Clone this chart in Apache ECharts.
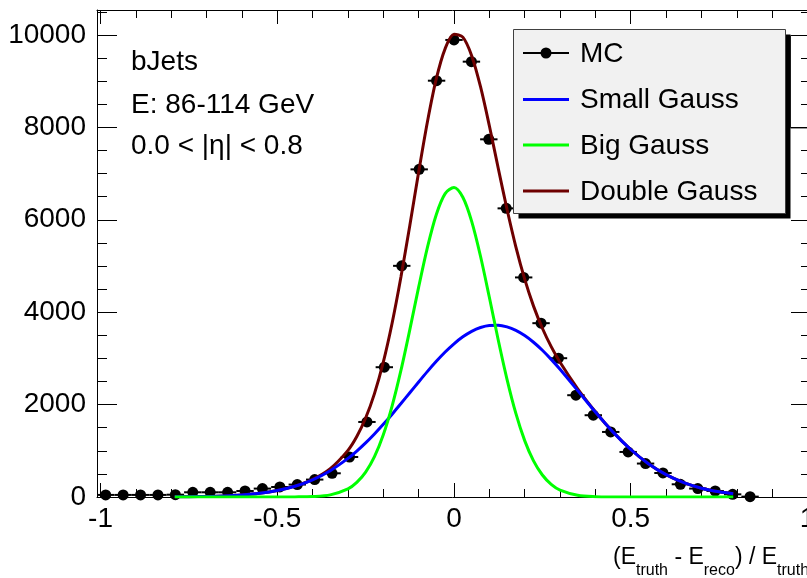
<!DOCTYPE html>
<html>
<head>
<meta charset="utf-8">
<script src="https://cdn.jsdelivr.net/npm/echarts@6/dist/echarts.min.js"></script>
<style>
  html, body { margin: 0; padding: 0; background: #ffffff; }
  #chart { width: 807px; height: 578px; }
</style>
</head>
<body>
<div id="chart"></div>
<script>
// ---- data -------------------------------------------------------------
const seriesNames = ['MC', 'Small Gauss', 'Big Gauss', 'Double Gauss'];

// MC histogram: bin centres and entries
const binCenters = [-0.9854, -0.9361, -0.8868, -0.8376, -0.7883, -0.7390, -0.6898, -0.6405,
  -0.5912, -0.5420, -0.4927, -0.4434, -0.3941, -0.3449, -0.2956, -0.2463, -0.1971, -0.1478,
  -0.0985, -0.0493, 0, 0.0493, 0.0985, 0.1478, 0.1971, 0.2463, 0.2956, 0.3449, 0.3941,
  0.4434, 0.4927, 0.5420, 0.5912, 0.6405, 0.6898, 0.7390, 0.7883, 0.8376];
const binHalfWidth = 0.0246;
const mcCounts = [45, 45, 45, 45, 50, 102, 102, 102, 130, 182, 217, 269, 377, 513, 866,
  1624, 2809, 5003, 7091, 9010, 9892, 9422, 7741, 6247, 4752, 3762, 3004, 2203, 1770,
  1408, 975, 724, 520, 275, 182, 130, 58, 8];

// fitted curves sampled along the fit range
const fitX = [-0.79, -0.75, -0.7, -0.65, -0.6, -0.55, -0.5, -0.45, -0.4, -0.35,
  -0.3, -0.275, -0.25, -0.225, -0.2, -0.175, -0.15, -0.125, -0.1, -0.075, -0.05, -0.025,
  0, 0.025, 0.05, 0.075, 0.1, 0.125, 0.15, 0.175, 0.2, 0.225, 0.25, 0.275, 0.3,
  0.35, 0.4, 0.45, 0.5, 0.55, 0.6, 0.65, 0.7, 0.75, 0.79];
const smallGauss = [3, 6, 12, 23, 44, 80, 140, 233, 372, 569,
  835, 994, 1171, 1364, 1572, 1793, 2022, 2256, 2490, 2719, 2937, 3138,
  3316, 3467, 3586, 3669, 3713, 3717, 3681, 3606, 3494, 3349, 3176, 2979, 2764,
  2303, 1838, 1404, 1028, 720, 483, 310, 191, 112, 71];
const bigGauss = [0, 0, 0, 0, 0, 0, 0, 2, 10, 46,
  175, 315, 538, 874, 1347, 1973, 2744, 3622, 4542, 5408, 6116, 6567,
  6698, 6486, 5966, 5211, 4322, 3404, 2547, 1809, 1220, 782, 476, 275, 151,
  39, 8, 1, 0, 0, 0, 0, 0, 0, 0];
const doubleGauss = [3, 6, 12, 23, 44, 80, 140, 235, 382, 615,
  1010, 1309, 1709, 2238, 2919, 3766, 4766, 5878, 7032, 8127, 9053, 9705,
  10014, 9953, 9552, 8880, 8035, 7121, 6228, 5415, 4714, 4131, 3652, 3254, 2915,
  2342, 1846, 1405, 1028, 720, 483, 310, 191, 112, 71];

// axis ticks
const xMajorTicks = [-1, -0.5, 0, 0.5, 1];
const xMinorTicks = [-1, -0.9, -0.8, -0.7, -0.6, -0.5, -0.4, -0.3, -0.2, -0.1, 0,
  0.1, 0.2, 0.3, 0.4, 0.5, 0.6, 0.7, 0.8, 0.9, 1];
const yMajorTicks = [0, 2000, 4000, 6000, 8000, 10000];
const yMinorTicks = [0, 500, 1000, 1500, 2000, 2500, 3000, 3500, 4000, 4500, 5000,
  5500, 6000, 6500, 7000, 7500, 8000, 8500, 9000, 9500, 10000, 10500];
const xRange = [-1.01, 1.01];
const yRange = [0, 10540];

// text
const infoLines = ['bJets', 'E: 86-114 GeV', '0.0 < |\u03b7| < 0.8'];
const titleParts = [['(E', 'main'], ['truth', 'sub'], [' - E', 'main'], ['reco', 'sub'],
  [') / E', 'main'], ['truth', 'sub']];

// ---- styling ------------------------------------------------------------
const FONT = '"Liberation Sans", Arial, Helvetica, sans-serif';
const colors = { mc: '#000000', small: '#0000ff', big: '#00ff00', dbl: '#6e0000' };

const chart = echarts.init(document.getElementById('chart'), null, { renderer: 'canvas' });

function xAxisDef(pos, ticks, len, withLine, withLabels) {
  return {
    type: 'value', position: pos, offset: 0, min: xRange[0], max: xRange[1],
    axisLine: { show: withLine, onZero: false, lineStyle: { color: '#000', width: 1 } },
    axisTick: { show: true, inside: true, length: len, customValues: ticks,
      lineStyle: { color: '#000', width: 1 } },
    axisLabel: withLabels ? {
      show: true, customValues: xMajorTicks, margin: 8, color: '#000',
      fontFamily: FONT, fontSize: 28, formatter: v => String(v)
    } : { show: false },
    splitLine: { show: false }
  };
}
function yAxisDef(pos, ticks, len, withLine, withLabels) {
  return {
    type: 'value', position: pos, offset: 0, min: yRange[0], max: yRange[1],
    axisLine: { show: withLine, onZero: false, lineStyle: { color: '#000', width: 1 } },
    axisTick: { show: true, inside: true, length: len, customValues: ticks,
      lineStyle: { color: '#000', width: 1 } },
    axisLabel: withLabels ? {
      show: true, customValues: yMajorTicks, margin: 11, color: '#000',
      fontFamily: FONT, fontSize: 28, formatter: v => String(v)
    } : { show: false },
    splitLine: { show: false }
  };
}

// measure x-title pieces so the subscript parts line up
const mctx = document.createElement('canvas').getContext('2d');
const titleFont = { main: 23, sub: 16 };
function textWidth(t, size) {
  mctx.font = size + 'px ' + FONT;
  return mctx.measureText(t).width;
}

const graphics = [];
// x-axis title with subscripts
let tx = 613;
titleParts.forEach(([t, kind]) => {
  const size = titleFont[kind];
  graphics.push({
    type: 'text', x: tx, y: kind === 'main' ? 558 : 571, z: 50,
    style: { text: t, font: size + 'px ' + FONT, fill: '#000',
      align: 'left', verticalAlign: 'middle', textAlign: 'left', textVerticalAlign: 'middle' }
  });
  tx += textWidth(t, size);
});

// info text at top left
const infoY = [62.5, 105, 146];
infoLines.forEach((t, i) => {
  graphics.push({
    type: 'text', x: 131, y: infoY[i], z: 50,
    style: { text: t, font: '28px ' + FONT, fill: '#000',
      align: 'left', verticalAlign: 'middle', textAlign: 'left', textVerticalAlign: 'middle' }
  });
});

// box partly hidden at the right edge
graphics.push({
  type: 'rect', z: -1, shape: { x: 790.5, y: 35.5, width: 40, height: 92.5 },
  style: { fill: '#ffffff', stroke: '#333333', lineWidth: 1 }
});

// legend box with drop shadow
graphics.push({
  type: 'rect', z: 60, shape: { x: 518.5, y: 34.5, width: 272, height: 184 },
  style: { fill: '#000000' }
});
graphics.push({
  type: 'rect', z: 61, shape: { x: 513.5, y: 29.5, width: 272, height: 184 },
  style: { fill: '#f1f1f1', stroke: '#404040', lineWidth: 1 }
});
const legendY = [53, 99.5, 145, 191];
const legendColors = [colors.mc, colors.small, colors.big, colors.dbl];
seriesNames.forEach((name, i) => {
  const y = legendY[i];
  graphics.push({
    type: 'line', z: 62, shape: { x1: 523, y1: y, x2: 569, y2: y },
    style: { stroke: legendColors[i], lineWidth: i === 0 ? 2 : 3 }
  });
  if (i === 0) {
    graphics.push({ type: 'circle', z: 63, shape: { cx: 546, cy: y, r: 5.5 },
      style: { fill: '#000' } });
  }
  graphics.push({
    type: 'text', x: 580, y: y + 1, z: 63,
    style: { text: name, font: '28px ' + FONT, fill: '#000',
      align: 'left', verticalAlign: 'middle', textAlign: 'left', textVerticalAlign: 'middle' }
  });
});

const mcData = binCenters.map((x, i) => [x, mcCounts[i]]);
const pairs = ys => fitX.map((x, i) => [x, ys[i]]);

const curve = (name, ys, color, z) => ({
  name, type: 'line', data: pairs(ys), showSymbol: false, smooth: 0.3,
  lineStyle: { color, width: 3 }, z, silent: true, clip: true
});

chart.setOption({
  animation: false,
  backgroundColor: '#ffffff',
  grid: { left: 97, top: 10, width: 714, height: 487, containLabel: false,
    outerBoundsMode: 'none' },
  xAxis: [
    xAxisDef('bottom', xMajorTicks, 14, true, true),
    xAxisDef('bottom', xMinorTicks, 8, false, false),
    xAxisDef('top', xMajorTicks, 14, true, false),
    xAxisDef('top', xMinorTicks, 8, false, false)
  ],
  yAxis: [
    yAxisDef('left', yMajorTicks, 20, true, true),
    yAxisDef('left', yMinorTicks, 10, false, false),
    yAxisDef('right', yMajorTicks, 20, true, false),
    yAxisDef('right', yMinorTicks, 10, false, false)
  ],
  graphic: { elements: graphics },
  series: [
    {
      name: seriesNames[0] + ' bins', type: 'custom', data: mcData, z: 3, silent: true,
      renderItem: (params, api) => {
        const x = api.value(0), y = api.value(1);
        const a = api.coord([x - binHalfWidth, y]);
        const b = api.coord([x + binHalfWidth, y]);
        return { type: 'line', shape: { x1: a[0], y1: a[1], x2: b[0], y2: b[1] },
          style: { stroke: colors.mc, lineWidth: 2 } };
      }
    },
    {
      name: seriesNames[0], type: 'scatter', data: mcData, symbol: 'circle', symbolSize: 11,
      itemStyle: { color: colors.mc, opacity: 1 }, z: 4, silent: true
    },
    curve(seriesNames[3], doubleGauss, colors.dbl, 5),
    curve(seriesNames[1], smallGauss, colors.small, 6),
    curve(seriesNames[2], bigGauss, colors.big, 7)
  ]
});
</script>
</body>
</html>
